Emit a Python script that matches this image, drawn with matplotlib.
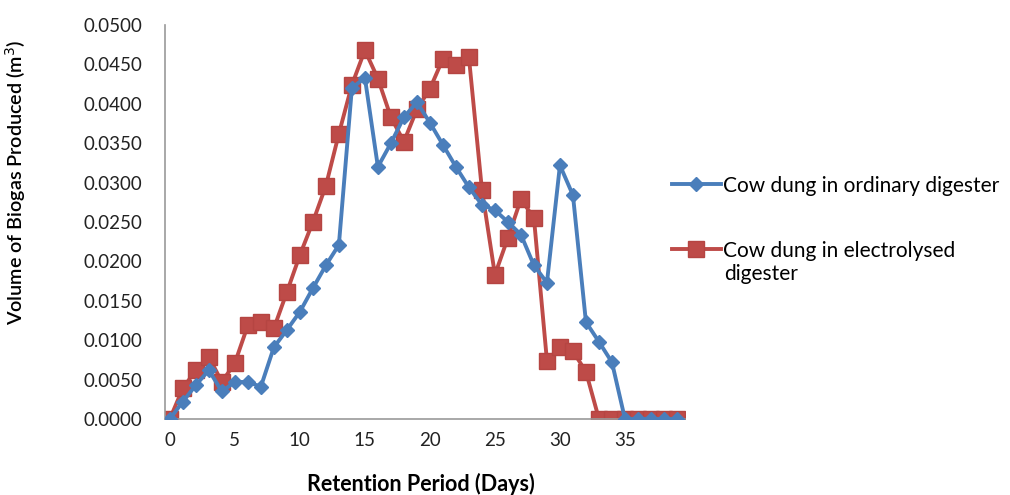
import matplotlib.pyplot as plt

# Daily biogas volume (m^3) for both digesters
days = list(range(40))
ordinary = [0.0000, 0.0022, 0.0043, 0.0062, 0.0035, 0.0047, 0.0047, 0.0041,
            0.0091, 0.0113, 0.0136, 0.0166, 0.0195, 0.0221, 0.0420, 0.0433,
            0.0320, 0.0350, 0.0383, 0.0402, 0.0376, 0.0348, 0.0320, 0.0294,
            0.0272, 0.0265, 0.0250, 0.0234, 0.0195, 0.0173, 0.0322, 0.0284,
            0.0123, 0.0098, 0.0072, 0.0000, 0.0000, 0.0000, 0.0000, 0.0000]
electrolysed = [0.0000, 0.0039, 0.0062, 0.0079, 0.0047, 0.0071, 0.0119, 0.0123,
                0.0115, 0.0161, 0.0208, 0.0250, 0.0296, 0.0362, 0.0424, 0.0468,
                0.0432, 0.0383, 0.0352, 0.0393, 0.0419, 0.0457, 0.0449, 0.0459,
                0.0291, 0.0183, 0.0230, 0.0279, 0.0255, 0.0074, 0.0091, 0.0086,
                0.0060, 0.0000, 0.0000, 0.0000, 0.0000, 0.0000, 0.0000, 0.0000]
xticks = [0, 5, 10, 15, 20, 25, 30, 35]
yticks = [0.0, 0.005, 0.010, 0.015, 0.020, 0.025, 0.030, 0.035, 0.040, 0.045, 0.050]

plt.rcParams['font.family'] = ['Lato', 'DejaVu Sans']

fig = plt.figure(figsize=(10.1, 4.95), dpi=100)
ax = fig.add_axes([0.163, 0.1535, 0.515, 0.796])

ax.plot(days, ordinary, color="#4A7EBB", lw=2.8, marker="D", ms=7,
        label="Cow dung in ordinary digester", zorder=3)
ax.plot(days, electrolysed, color="#BE4B48", lw=2.8, marker="s", ms=12,
        markeredgecolor="#B54542", label="Cow dung in electrolysed", zorder=2)

ax.set_xlim(-0.4, 39.6)
ax.set_ylim(0, 0.05)
ax.set_xticks(xticks)
ax.set_yticks(yticks)
ax.set_yticklabels([f"{v:.4f}" for v in yticks])
ax.tick_params(length=0, labelsize=13.5, colors="#222222")
ax.tick_params(axis="y", pad=16)
ax.tick_params(axis="x", pad=9)

for side in ["top", "right"]:
    ax.spines[side].set_visible(False)
for side in ["left", "bottom"]:
    ax.spines[side].set_color("#999999")
    ax.spines[side].set_linewidth(1.2)

ax.set_xlabel("Retention Period (Days)", fontsize=15.5, fontweight="bold")
ax.xaxis.set_label_coords(0.492, -0.137)
ax.set_ylabel("Volume of Biogas Produced (m$^3$)", fontsize=14.2, fontweight="semibold")
ax.yaxis.set_label_coords(-0.262, 0.60)

leg = fig.legend(loc="upper left", bbox_to_anchor=(0.655, 0.666), frameon=False,
                 fontsize=15, handlelength=2.35, labelspacing=2.15, handletextpad=0.1,
                 borderpad=0)
# second legend label wraps onto a new line
fig.text(0.717, 0.4465, "digester", fontsize=15, va="center", ha="left")

fig.savefig("out.png", dpi=100)
